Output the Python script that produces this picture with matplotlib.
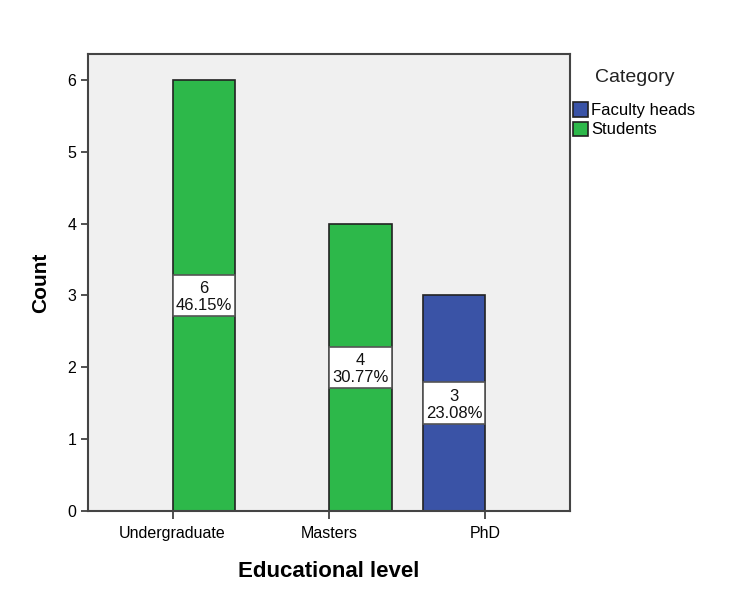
import numpy as np
import matplotlib.pyplot as plt
from matplotlib.patches import Rectangle

# Counts by educational level, split by category
levels = ['Undergraduate', 'Masters', 'PhD']
faculty_heads = [0, 0, 3]
students = [6, 4, 0]
categories = ['Faculty heads', 'Students']
colors = ['#3a53a6', '#2db84a']

total = sum(faculty_heads) + sum(students)
FONT = 'Liberation Sans'

fig = plt.figure(figsize=(7.46, 5.91), dpi=100)
ax = fig.add_axes([0.118, 0.135, 0.646, 0.774])
ax.set_facecolor('#f0f0f0')

x = np.arange(len(levels))
width = 0.4
offsets = [-width / 2, width / 2]
box_h = 0.58

for series, off, col, name in zip([faculty_heads, students], offsets, colors, categories):
    bars = ax.bar(x + off, series, width=width, color=col, edgecolor='#222222',
                  linewidth=1.2, label=name, zorder=2)
    for b, v in zip(bars, series):
        if v == 0:
            continue
        pct = v / total * 100
        # label box spans the whole bar width, centred at half height
        ax.add_patch(Rectangle((b.get_x(), v / 2 - box_h / 2), b.get_width(), box_h,
                               facecolor='white', edgecolor='#555555',
                               linewidth=1.2, zorder=3))
        ax.text(b.get_x() + b.get_width() / 2, v / 2 - 0.02, f'{v}\n{pct:.2f}%',
                ha='center', va='center', fontsize=12, family=FONT,
                linespacing=1.15, zorder=4, color='#111111')

ax.set_xlim(-0.54, 2.54)
ax.set_ylim(0, 6.36)
ax.set_xticks(x)
ax.set_xticklabels(levels, family=FONT, fontsize=11.5)
ax.set_yticks(range(0, 7))
ax.tick_params(axis='y', labelsize=11.5, length=5, width=1.2, color='#333333')
ax.tick_params(axis='x', length=6, width=1.2, color='#333333', pad=5)
for lab in ax.get_yticklabels():
    lab.set_family(FONT)

for s in ax.spines.values():
    s.set_color('#444444')
    s.set_linewidth(1.5)

ax.set_xlabel('Educational level', fontsize=16, fontweight='bold',
              family=FONT, labelpad=14)
ax.set_ylabel('Count', fontsize=15, fontweight='bold',
              family=FONT, labelpad=12)

fig.text(595 / 746, 1 - 78 / 591, 'Category', fontsize=14, family=FONT,
         ha='left', va='center', color='#222222')
leg = fig.legend(loc='upper left', bbox_to_anchor=(570 / 746, 1 - 99 / 591),
                 frameon=False, handlelength=0.85, handleheight=0.95,
                 handletextpad=0.2, labelspacing=0.2, borderaxespad=0,
                 borderpad=0.2, prop={'family': FONT, 'size': 12})

fig.savefig('out.png', dpi=100)
